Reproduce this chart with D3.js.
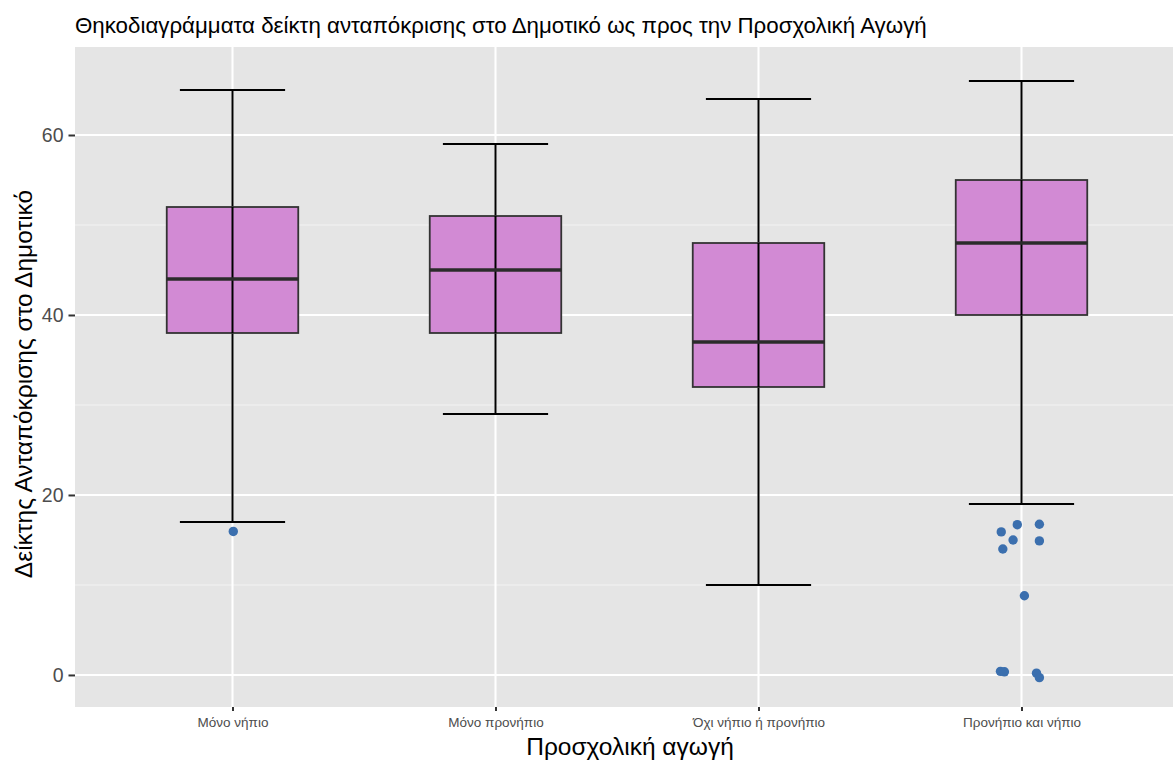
<!DOCTYPE html>
<html>
<head>
<meta charset="utf-8">
<script src="https://cdn.jsdelivr.net/npm/d3@7"></script>
<style>
  html, body { margin: 0; padding: 0; background: #ffffff; }
  svg { display: block; font-family: "Liberation Sans", Arial, Helvetica, sans-serif; }
</style>
</head>
<body>
<svg id="chart" width="1174" height="762"></svg>
<script>
// ---- data ----
const categories = ["Μόνο νήπιο", "Μόνο προνήπιο", "Όχι νήπιο ή προνήπιο", "Προνήπιο και νήπιο"];
const whiskerLow  = [17, 29, 10, 19];
const q1          = [38, 38, 32, 40];
const median      = [44, 45, 37, 48];
const q3          = [52, 51, 48, 55];
const whiskerHigh = [65, 59, 64, 66];
// outliers: category, jitter offset (fraction of category spacing), value
const outlierCategory = ["Μόνο νήπιο", "Προνήπιο και νήπιο", "Προνήπιο και νήπιο", "Προνήπιο και νήπιο",
  "Προνήπιο και νήπιο", "Προνήπιο και νήπιο", "Προνήπιο και νήπιο", "Προνήπιο και νήπιο",
  "Προνήπιο και νήπιο", "Προνήπιο και νήπιο", "Προνήπιο και νήπιο", "Προνήπιο και νήπιο"];
const outlierJitter = [0.003, -0.016, 0.068, -0.077, -0.032, 0.068, -0.071, 0.011, -0.08, -0.065, 0.057, 0.068];
const outlierValue  = [15.95, 16.7, 16.75, 15.9, 15.0, 14.9, 14.0, 8.8, 0.4, 0.35, 0.2, -0.3];
const yTicks = [0, 20, 40, 60];
const yMinor = [10, 30, 50];
const titleText = "Θηκοδιαγράμματα δείκτη ανταπόκρισης στο Δημοτικό ως προς την Προσχολική Αγωγή";
const xTitle = "Προσχολική αγωγή";
const yTitle = "Δείκτης Ανταπόκρισης στο Δημοτικό";

// ---- layout ----
const panel = { left: 75, top: 47, right: 1173, bottom: 707 };
const svg = d3.select("#chart");

const x = d3.scalePoint().domain(categories).range([232.5, 1021.5]);
const step = x.step();
const y = d3.scaleLinear().domain([-3.56, 69.78]).range([panel.bottom, panel.top]);

// panel background
svg.append("rect")
  .attr("x", panel.left).attr("y", panel.top)
  .attr("width", panel.right - panel.left).attr("height", panel.bottom - panel.top)
  .attr("fill", "#e5e5e5");

const grid = svg.append("g");
grid.selectAll("line.minor").data(yMinor).join("line")
  .attr("x1", panel.left).attr("x2", panel.right)
  .attr("y1", d => y(d)).attr("y2", d => y(d))
  .attr("stroke", "#f4f4f4").attr("stroke-width", 1.1);
grid.selectAll("line.majy").data(yTicks).join("line")
  .attr("x1", panel.left).attr("x2", panel.right)
  .attr("y1", d => y(d)).attr("y2", d => y(d))
  .attr("stroke", "#ffffff").attr("stroke-width", 2.1);
grid.selectAll("line.majx").data(categories).join("line")
  .attr("x1", d => x(d)).attr("x2", d => x(d))
  .attr("y1", panel.top).attr("y2", panel.bottom)
  .attr("stroke", "#ffffff").attr("stroke-width", 2.1);

// boxes
const boxes = categories.map((c, i) => ({ c, lo: whiskerLow[i], q1: q1[i], med: median[i], q3: q3[i], hi: whiskerHigh[i] }));
const bw = step * 0.5, cw = step * 0.4;
const g = svg.append("g");
const bx = g.selectAll("g.box").data(boxes).join("g");
bx.append("line")
  .attr("x1", d => x(d.c)).attr("x2", d => x(d.c))
  .attr("y1", d => y(d.lo)).attr("y2", d => y(d.hi))
  .attr("stroke", "#000").attr("stroke-width", 2);
bx.append("line")
  .attr("x1", d => x(d.c) - cw / 2).attr("x2", d => x(d.c) + cw / 2)
  .attr("y1", d => y(d.hi)).attr("y2", d => y(d.hi))
  .attr("stroke", "#000").attr("stroke-width", 2);
bx.append("line")
  .attr("x1", d => x(d.c) - cw / 2).attr("x2", d => x(d.c) + cw / 2)
  .attr("y1", d => y(d.lo)).attr("y2", d => y(d.lo))
  .attr("stroke", "#000").attr("stroke-width", 2);
bx.append("rect")
  .attr("x", d => x(d.c) - bw / 2).attr("width", bw)
  .attr("y", d => y(d.q3)).attr("height", d => y(d.q1) - y(d.q3))
  .attr("fill", "#d28ad4").attr("stroke", "#333333").attr("stroke-width", 1.8);
bx.append("line")
  .attr("x1", d => x(d.c)).attr("x2", d => x(d.c))
  .attr("y1", d => y(d.q3)).attr("y2", d => y(d.q1))
  .attr("stroke", "#000").attr("stroke-width", 2);
bx.append("line")
  .attr("x1", d => x(d.c) - bw / 2).attr("x2", d => x(d.c) + bw / 2)
  .attr("y1", d => y(d.med)).attr("y2", d => y(d.med))
  .attr("stroke", "#2b2b2b").attr("stroke-width", 3.6);

// outliers
const pts = outlierValue.map((v, i) => ({ c: outlierCategory[i], j: outlierJitter[i], v }));
svg.append("g").selectAll("circle").data(pts).join("circle")
  .attr("cx", d => x(d.c) + d.j * step)
  .attr("cy", d => y(d.v))
  .attr("r", 4.7)
  .attr("fill", "#3b6fae");

// y axis
const yAxis = svg.append("g").attr("transform", `translate(${panel.left},0)`)
  .call(d3.axisLeft(y).tickValues(yTicks).tickSize(6.5).tickPadding(5).tickFormat(d3.format("d")));
yAxis.select(".domain").remove();
yAxis.selectAll(".tick line").attr("stroke", "#333333").attr("stroke-width", 2);
yAxis.selectAll(".tick text").attr("fill", "#4d4d4d").attr("font-size", 19.5)
  .attr("font-family", "Liberation Sans, Arial, sans-serif");

// x axis
const xAxis = svg.append("g").attr("transform", `translate(0,${panel.bottom})`)
  .call(d3.axisBottom(x).tickSize(4).tickPadding(6));
xAxis.select(".domain").remove();
xAxis.selectAll(".tick line").attr("stroke", "#333333").attr("stroke-width", 2);
xAxis.selectAll(".tick text").attr("fill", "#4d4d4d").attr("font-size", 13.5)
  .attr("font-family", "Liberation Sans, Arial, sans-serif");

// titles
svg.append("text").attr("x", 75).attr("y", 33)
  .attr("font-size", 22.3).attr("fill", "#000").text(titleText);
svg.append("text").attr("x", 630).attr("y", 755)
  .attr("text-anchor", "middle").attr("font-size", 24.5).attr("fill", "#000").text(xTitle);
svg.append("text").attr("transform", `translate(32,384) rotate(-90)`)
  .attr("text-anchor", "middle").attr("font-size", 24.5).attr("fill", "#000").text(yTitle);
</script>
</body>
</html>
